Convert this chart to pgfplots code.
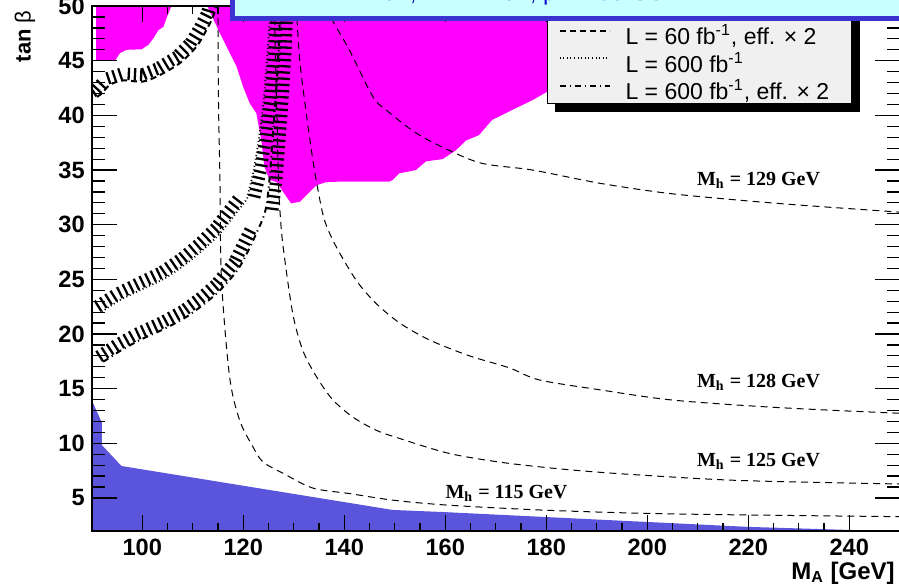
\documentclass[border=0pt]{standalone}
\usepackage{fontspec}
\setmainfont{Liberation Sans}
\newfontfamily\labelserif{Liberation Serif}
\usepackage{pgfplots}
\pgfplotsset{compat=1.18}
\usetikzlibrary{decorations.pathreplacing}

\definecolor{excl}{HTML}{FF00FF}
\definecolor{lowtb}{HTML}{5A55DA}
\definecolor{boxfill}{HTML}{C8FFFF}
\definecolor{boxline}{HTML}{3C32D0}
\definecolor{titleblue}{HTML}{1010D0}
\definecolor{legfill}{HTML}{F0F0F0}

\tikzset{
  mhlabel/.style={anchor=base west, inner sep=0pt, font=\labelserif\bfseries\fontsize{10}{12}\selectfont},
  bandA/.style={black, line width=1pt, dash pattern=on 3pt off 2pt},
  bandB/.style={black, line width=0.9pt, dash pattern=on 0.5pt off 1.3pt},
  bandC/.style={black, line width=1pt, dash pattern=on 3pt off 2pt on 0.6pt off 2pt},
}
\pgfplotsset{
  % hatching drawn on the left-hand side of the direction of travel
  hatchband/.style={forget plot, draw=none,
    postaction={draw=black, line width=1.15pt, decorate,
      decoration={ticks, segment length=3.1pt, amplitude=3.1pt, raise=3.4pt}}},
  mhline/.style={forget plot, smooth, black, line width=0.5pt, dash pattern=on 3.5pt off 2.5pt},
}

\begin{document}
\begin{tikzpicture}
\begin{axis}[
  at={(0pt,0pt)}, anchor=south west,
  scale only axis, width=404pt, height=262.3pt,
  xmin=90, xmax=250, ymin=2, ymax=50,
  xtick={100,120,...,240}, minor x tick num=3,
  ytick={5,10,...,50}, minor y tick num=4,
  tick pos=both, ticklabel pos=left, tick align=inside,
  xtick style={/pgfplots/major tick length=7.85pt, /pgfplots/minor tick length=4pt, black, line width=0.6pt},
  ytick style={/pgfplots/major tick length=12.5pt, /pgfplots/minor tick length=6.5pt, black, line width=0.6pt},
  axis line style={black, line width=0.8pt},
  ticklabel style={font=\bfseries\fontsize{11.8}{12}\selectfont},
  /pgf/number format/assume math mode=true,
  xticklabel style={inner sep=0pt, yshift=-3.8pt},
  yticklabel style={inner sep=0pt, xshift=-3.3pt},
  axis on top,
  legend style={at={(axis description cs:0.5635,0.8132)}, anchor=south west,
    fill=legfill, draw=black, line width=0.5pt,
    font=\fontsize{11.5}{13}\selectfont,
    inner xsep=5.5pt, inner ysep=1pt, row sep=3.75pt, column sep=7pt,
    nodes={inner sep=0.5pt, text height=8.5pt, text depth=0.5pt}},
  legend cell align=left,
  legend image code/.code={\draw[#1] (0pt,3pt) -- (25pt,3pt);},
]
% legend entries (the first row sits beneath the title box)
\addlegendimage{black, line width=1pt}
\addlegendentry{\makebox[107pt][l]{}}
\addlegendimage{bandA}
\addlegendentry{\makebox[107pt][l]{L = 60 fb\textsuperscript{-1}, eff. × 2}}
\addlegendimage{bandB}
\addlegendentry{\makebox[107pt][l]{L = 600 fb\textsuperscript{-1}}}
\addlegendimage{bandC}
\addlegendentry{\makebox[107pt][l]{L = 600 fb\textsuperscript{-1}, eff. × 2}}

% theoretically inaccessible low tan(beta) region
\addplot[forget plot, fill=lowtb, draw=none] coordinates {
  (90,13.96) (92.0,11.9) (92.0,9.84) (95.9,7.92) (149.6,3.9) (160,3.7)
  (200,2.8) (220,2.35) (245,2.0) (90,2.0)
} -- cycle;

% excluded region (magenta)
\addplot[forget plot, fill=excl, draw=none] coordinates {
  (90.9,50) (90.9,45) (94.6,45) (95.6,45.7) (96.9,46.0) (99.9,46.05)
  (101.2,46.45) (102.2,47.05) (103.2,47.8) (104.2,48.1) (104.9,49) (105.8,50)
} -- cycle;
\addplot[forget plot, fill=excl, draw=none] coordinates {
  (113.0,50) (113.0,49.9) (115.4,47.5) (118.7,44.45) (120.0,42.6) (121.3,41.1)
  (122.6,40.2) (123.6,37.7) (124.2,35.3) (125.2,34.1) (126.6,33.9) (128.5,32.6)
  (129.5,31.95) (131.2,32.1) (132.5,32.7) (134.5,33.6) (136.4,33.9) (140,33.95)
  (145,33.95) (149.0,33.95) (149.6,34.1) (150.9,34.7) (154.2,35.0) (156.2,35.8)
  (159.5,36.0) (162.1,36.8) (164.1,37.7) (166.7,38.2) (169.3,39.6) (170.7,39.9)
  (174.6,40.8) (177.3,41.4) (179.2,41.9) (182.5,42.8) (190.5,46.0) (200.3,50)
} -- cycle;

% M_h contours
\addplot[mhline] coordinates {
  (115.0,50) (115.1,41.4) (115.4,34.1) (115.7,25.0) (117.3,16.1) (119.3,12.1)
  (121.9,9.7) (123.9,8.3) (127.9,7.25) (133.8,5.9) (141.0,5.4) (149.6,4.8)
  (160.2,4.35) (178.6,3.9) (198.4,3.6) (218.1,3.45) (247.1,3.3) (250,3.3)
};
\addplot[mhline] coordinates {
  (126.2,50) (126.4,45.06) (126.7,39.6) (127.0,33.8) (127.3,31.1) (127.9,28.0)
  (129.8,21.9) (131.8,18.5) (134.5,16.1) (137.7,14.0) (141.7,12.4) (146.3,11.2)
  (150.9,10.45) (160.8,9.07) (172.0,8.2) (185.2,7.55) (198.4,7.1) (218.1,6.6)
  (247.1,6.3) (250,6.3)
};
\addplot[mhline] coordinates {
  (130.5,50) (131.2,45.06) (132.4,40.5) (133.8,35.9) (134.8,33.2) (136.1,30.4)
  (138.4,28.0) (142.4,24.9) (146.3,22.8) (151.0,21.0) (156.9,19.45) (164.8,18.0)
  (172.7,16.9) (178.6,15.8) (190.5,14.9) (204.9,13.96) (224.7,13.3) (247.1,12.8)
  (250,12.78)
};
\addplot[mhline] coordinates {
  (137.1,50) (137.7,48.7) (141.0,46.0) (145.7,41.7) (148.3,40.5) (154.2,38.4)
  (160.8,36.8) (167.4,35.6) (177.3,35.0) (190.5,33.8) (203.6,32.9) (216.8,32.3)
  (230.0,31.8) (248.4,31.2) (250,31.15)
};

% discovery contour: L = 60 fb^-1, eff. x 2
\addplot[forget plot, smooth, bandA] coordinates {
  (91.0,41.7) (92.0,42.0) (93.6,42.8) (96.2,43.2) (100.2,43.1) (103.5,43.7)
  (107.5,44.8) (110.75,46.3) (112.7,47.8) (114.0,49.0) (114.8,50.2)
};
\addplot[hatchband] coordinates {
  (91.0,41.7) (92.0,42.0) (93.6,42.8) (96.2,43.2) (100.2,43.1) (103.5,43.7)
  (107.5,44.8) (110.75,46.3) (112.7,47.8) (114.0,49.0) (114.8,50.2)
};

% discovery contour: L = 600 fb^-1
\addplot[forget plot, smooth, bandB] coordinates {
  (91.98,22.04) (95.6,23.1) (99.55,24.0) (104.5,25.1) (108.8,26.46) (112.4,27.86)
  (115.4,29.2) (118.3,30.9) (120.6,32.26) (120.9,32.7) (122.07,35.0) (123.06,37.74)
  (124.05,41.4) (124.84,45.98) (125.43,50.2)
};
\addplot[hatchband] coordinates {
  (91.98,22.04) (95.6,23.1) (99.55,24.0) (104.5,25.1) (108.8,26.46) (112.4,27.86)
  (115.4,29.2) (118.3,30.9) (120.6,32.26)
};
\addplot[hatchband] coordinates {
  (125.43,50.2) (124.84,45.98) (124.05,41.4) (123.06,37.74) (122.07,35.0) (120.9,32.7)
};

% discovery contour: L = 600 fb^-1, eff. x 2
\addplot[forget plot, smooth, bandC] coordinates {
  (92.3,17.46) (95.6,18.44) (99.55,19.45) (104.5,20.5) (108.8,21.58) (112.4,22.8)
  (115.4,24.0) (119.3,26.15) (122.6,29.2) (124.4,31.3) (125.2,34.1) (125.8,37.74)
  (126.4,41.4) (127.0,45.98) (127.4,50.2)
};
\addplot[hatchband] coordinates {
  (92.3,17.46) (95.6,18.44) (99.55,19.45) (104.5,20.5) (108.8,21.58) (112.4,22.8)
  (115.4,24.0) (119.3,26.15) (122.6,29.2)
};
\addplot[hatchband] coordinates {
  (127.4,50.2) (127.0,45.98) (126.4,41.4) (125.8,37.74) (125.2,34.1) (124.4,31.3)
};

% contour labels
\node[mhlabel] at (axis cs:209.8,33.63) {M\textsubscript{h} = 129 GeV};
\node[mhlabel] at (axis cs:209.8,15.06) {M\textsubscript{h} = 128 GeV};
\node[mhlabel] at (axis cs:209.8,7.92) {M\textsubscript{h} = 125 GeV};
\node[mhlabel] at (axis cs:160.0,4.99) {M\textsubscript{h} = 115 GeV};

% legend shadow
\fill[black] (rel axis cs:0.5734,0.7981) rectangle (rel axis cs:0.9509,1.1);
\end{axis}

% axis titles
\node[rotate=90, anchor=east, inner sep=0pt, font=\fontsize{11}{13}\selectfont]
  at (-33.35pt,260.35pt) {\bfseries tan\ \mdseries β};
\node[anchor=base east, inner sep=0pt, font=\bfseries\fontsize{12}{14}\selectfont]
  at (401.65pt,-24.15pt) {M\textsubscript{A} [GeV]};

% title box
\filldraw[fill=boxfill, draw=boxline, line width=2.5pt] (70.4pt,256.1pt) rectangle (480pt,330pt);
\node[anchor=base west, inner sep=0pt, text=titleblue, font=\fontsize{12}{14}\selectfont]
  at (107.65pt,264.9pt) {X = 2 TeV, M = 1 TeV, μ = 200 GeV};

\pgfresetboundingbox
\useasboundingbox (-45.85pt,-27.65pt) rectangle (403.65pt,265.35pt);
\end{tikzpicture}
\end{document}
